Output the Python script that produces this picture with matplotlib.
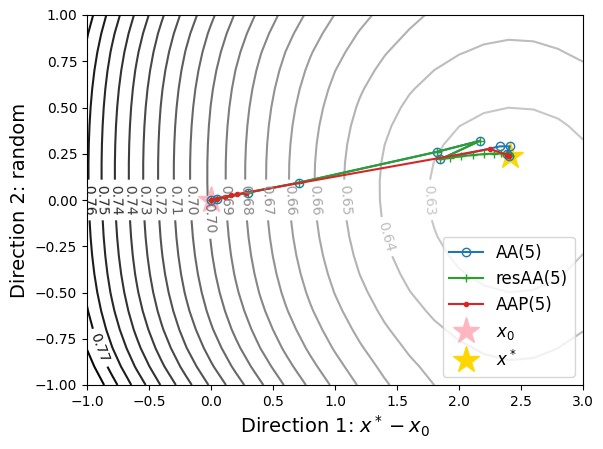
import numpy as np
import matplotlib
matplotlib.use("Agg")
import matplotlib.pyplot as plt
from matplotlib.colors import Normalize

# ---------------- data ----------------
# loss-landscape field parameters (bowl around the optimum)
F0 = 0.6265
CX = 0.01129
XC = 2.45
grid_x = np.linspace(-1.0, 3.0, 21)
grid_y = np.linspace(-1.0, 1.0, 21)
contour_levels = [0.632, 0.640, 0.648, 0.656, 0.664, 0.672, 0.680, 0.688,
                  0.696, 0.704, 0.712, 0.720, 0.728, 0.736, 0.744, 0.752,
                  0.760, 0.768, 0.776]

aa_x = [0.0, 0.05, 0.30, 0.71, 1.82, 2.17, 1.85, 2.33, 2.41, 2.39, 2.40]
aa_y = [0.0, 0.005, 0.04, 0.094, 0.26, 0.32, 0.22, 0.29, 0.29, 0.25, 0.24]

resaa_x = [0.0, 0.05, 0.30, 0.71, 1.82, 2.17, 1.85, 1.93, 2.02, 2.11, 2.20,
           2.28, 2.34, 2.38, 2.40, 2.41]
resaa_y = [0.0, 0.005, 0.04, 0.094, 0.26, 0.32, 0.22, 0.228, 0.236, 0.243,
           0.248, 0.251, 0.252, 0.25, 0.245, 0.24]

aap_x = [0.0, 0.05, 0.11, 0.16, 0.21, 0.28, 2.25, 2.39, 2.40]
aap_y = [0.0, 0.008, 0.018, 0.025, 0.032, 0.04, 0.276, 0.243, 0.24]

x0_pt = [0.0, 0.0]
xstar_pt = [2.41, 0.24]

x_ticks = [-1.0, -0.5, 0.0, 0.5, 1.0, 1.5, 2.0, 2.5, 3.0]
y_ticks = [-1.00, -0.75, -0.50, -0.25, 0.00, 0.25, 0.50, 0.75, 1.00]

# ---------------- field ----------------
X, Y = np.meshgrid(grid_x, grid_y)
W = np.exp(-((X - XC) / 1.5) ** 2)
A2 = 0.00968 * (1 - W) + 0.024 * W
A4 = 0.00737 * (1 - W) - 0.008 * W
YC = 0.15 * (1 - W)
DY = Y - YC
Z = F0 + CX * (X - XC) ** 2 + A2 * DY ** 2 + A4 * DY ** 4

# ---------------- plot ----------------
fig = plt.figure(figsize=(6.03, 4.49), dpi=100)
ax = fig.add_axes([87 / 603, 1 - 385 / 449, 496 / 603, 370 / 449])

cs = ax.contour(X, Y, Z, levels=contour_levels, cmap="gray_r",
                norm=Normalize(0.59, 0.782))
ax.clabel(cs, inline=True, fontsize=10, fmt="%.2f")

h1, = ax.plot(aa_x, aa_y, "o-", color="tab:blue", mfc="none", label="AA(5)", zorder=3)
h2, = ax.plot(resaa_x, resaa_y, "+-", color="tab:green", label="resAA(5)", zorder=3)
h3, = ax.plot(aap_x, aap_y, ".-", color="tab:red", label="AAP(5)", zorder=3)
h4, = ax.plot([x0_pt[0]], [x0_pt[1]], "*", color="lightpink", ms=20,
              label="$x_0$", zorder=2.5)
h5, = ax.plot([xstar_pt[0]], [xstar_pt[1]], "*", color="gold", ms=20,
              label="$x^*$", zorder=2.5)

ax.set_xlim(-1, 3)
ax.set_ylim(-1, 1)
ax.set_xticks(x_ticks)
ax.set_yticks(y_ticks)
ax.set_xlabel("Direction 1: $x^* - x_0$", fontsize=14)
ax.set_ylabel("Direction 2: random", fontsize=14)
ax.legend(handles=[h1, h2, h3, h4, h5], loc="lower right", fontsize=12)

fig.savefig("out.png", dpi=100)
